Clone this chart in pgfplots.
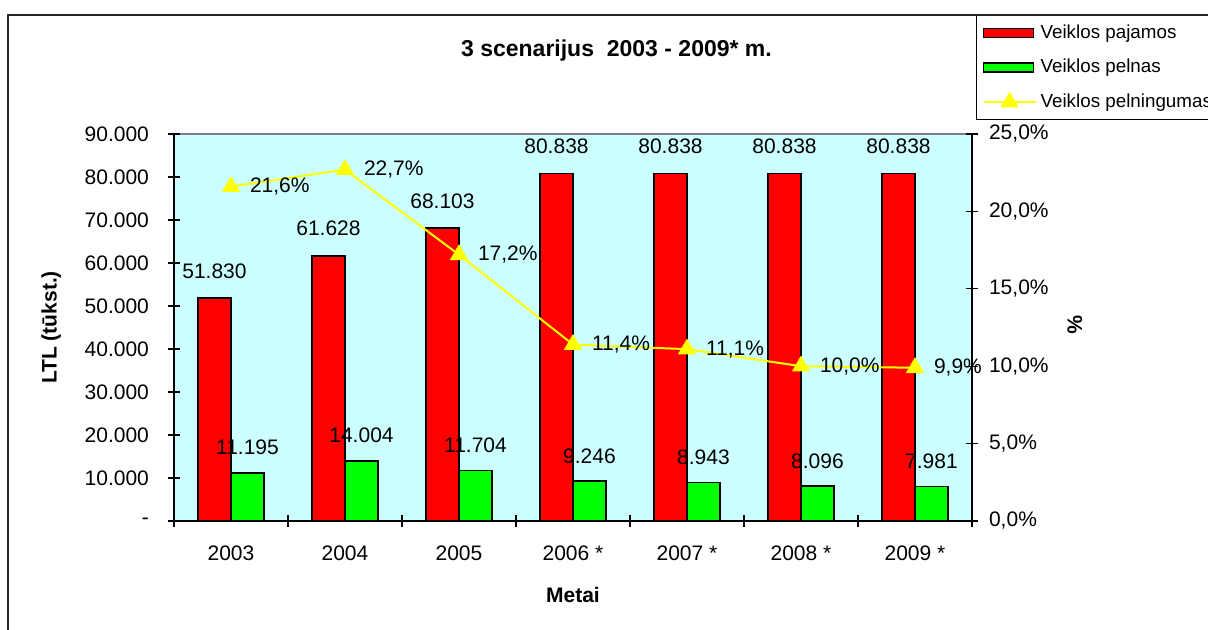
\documentclass[border=0pt]{standalone}
\usepackage{pgfplots}
\pgfplotsset{compat=1.18}
\usepackage{fontspec}
\setmainfont{Liberation Sans}
\definecolor{bg}{RGB}{204,255,255}
\definecolor{barred}{RGB}{255,0,0}
\definecolor{bargreen}{RGB}{0,255,0}
\definecolor{lineyellow}{RGB}{255,255,0}
\newcommand{\tickfont}{\fontsize{10.5}{12}\selectfont}
\pgfplotsset{
  barlegend/.style={legend image code/.code={\draw[##1] (0pt,-2.25pt) rectangle (25pt,2.25pt);}},
  linelegend/.style={legend image code/.code={\draw[mark repeat=2,mark phase=2,##1] plot coordinates {(0pt,0pt) (13pt,0pt) (26pt,0pt)};}},
}

\begin{document}
\begin{tikzpicture}
\path[use as bounding box] (-87pt,-54.5pt) rectangle (517pt,260.5pt);
\begin{axis}[
  at={(0,0)}, anchor=south west,
  scale only axis, width=399pt, height=193.5pt,
  xmin=-0.5, xmax=6.5, ymin=0, ymax=90000,
  scaled y ticks=false,
  axis background/.style={fill=bg, draw=gray, line width=0.6pt},
  axis x line*=bottom, axis y line*=left,
  axis line style={-, black, line width=0.6pt},
  xtick={-0.5,0.5,...,6.5}, x tick label as interval,
  xticklabels={2003,2004,2005,2006 *,2007 *,2008 *,2009 *},
  ytick={0,10000,20000,30000,40000,50000,60000,70000,80000,90000},
  yticklabels={-,10.000,20.000,30.000,40.000,50.000,60.000,70.000,80.000,90.000},
  tick align=center, major tick length=6pt,
  tick style={black, line width=0.6pt},
  every tick label/.append style={font=\tickfont},
  xticklabel style={yshift=-6pt},
  yticklabel style={xshift=-6pt},
  title={3 scenarijus\ \ 2003 - 2009* m.},
  title style={at={(axis description cs:0.5545,1.169)}, anchor=base, font=\bfseries\fontsize{11.5}{13}\selectfont},
  ylabel={LTL (tūkst.)},
  ylabel style={at={(axis description cs:-0.154,0.5)}, anchor=center, font=\bfseries\fontsize{10.5}{12}\selectfont},
  xlabel={Metai},
  xlabel style={at={(axis description cs:0.5,-0.191)}, anchor=center, font=\bfseries\fontsize{10.5}{12}\selectfont},
  legend style={at={(axis description cs:1.005,1.3075)}, anchor=north west,
    draw=black, line width=0.6pt, fill=white, font=\fontsize{9.4}{10.5}\selectfont,
    inner xsep=3pt, inner ysep=2.5pt, row sep=5pt, cells={anchor=west}},
  legend cell align=left,
]
\addplot[ybar, bar width=16.5pt, bar shift=-8.25pt, fill=barred, draw=black, line width=0.75pt,
  nodes near coords, point meta=explicit symbolic,
  nodes near coords style={anchor=base, inner sep=0pt, xshift=-8.25pt, yshift=10pt, font=\tickfont, black},
  barlegend]
  coordinates {(0,51830)[51.830] (1,61628)[61.628] (2,68103)[68.103] (3,80838)[80.838]
               (4,80838)[80.838] (5,80838)[80.838] (6,80838)[80.838]};
\addlegendentry{Veiklos pajamos}
\addplot[ybar, bar width=16.5pt, bar shift=8.25pt, fill=bargreen, draw=black, line width=0.75pt,
  nodes near coords, point meta=explicit symbolic,
  nodes near coords style={anchor=base, inner sep=0pt, xshift=8.25pt, yshift=9pt, font=\tickfont, black},
  barlegend]
  coordinates {(0,11195)[11.195] (1,14004)[14.004] (2,11704)[11.704] (3,9246)[9.246]
               (4,8943)[8.943] (5,8096)[8.096] (6,7981)[7.981]};
\addlegendentry{Veiklos pelnas}
\addlegendimage{lineyellow, line width=1pt, mark=triangle*, mark size=4.3pt,
  mark options={fill=lineyellow, draw=lineyellow}, linelegend}
\addlegendentry{Veiklos pelningumas}
\end{axis}
\begin{axis}[
  at={(0,0)}, anchor=south west,
  scale only axis, width=399pt, height=193.5pt,
  xmin=-0.5, xmax=6.5, ymin=0, ymax=25,
  axis x line=none, axis y line*=right,
  axis line style={-, black, line width=0.6pt},
  ytick={0,5,10,15,20,25},
  yticklabels={{0,0\%},{5,0\%},{10,0\%},{15,0\%},{20,0\%},{25,0\%}},
  tick align=center, major tick length=6pt,
  tick style={black, line width=0.6pt},
  every tick label/.append style={font=\tickfont},
  yticklabel style={xshift=2pt},
  ylabel={\%},
  ylabel style={at={(axis description cs:1.129,0.506)}, anchor=center, rotate=180, font=\bfseries\fontsize{10.5}{12}\selectfont},
]
\addplot[lineyellow, line width=1pt, mark=triangle*, mark size=4.3pt,
  mark options={fill=lineyellow, draw=lineyellow},
  nodes near coords, point meta=explicit symbolic,
  nodes near coords style={anchor=west, inner sep=0pt, xshift=9pt, yshift=0pt, font=\tickfont, black}]
  coordinates {(0,21.6)[21,6\%] (1,22.7)[22,7\%] (2,17.2)[17,2\%] (3,11.4)[11,4\%]
               (4,11.1)[11,1\%] (5,10.0)[10,0\%] (6,9.9)[9,9\%]};
\end{axis}
\draw[line width=0.75pt, black!85] (-83pt,-60pt) -- (-83pt,253pt) -- (530pt,253pt);
\end{tikzpicture}
\end{document}
